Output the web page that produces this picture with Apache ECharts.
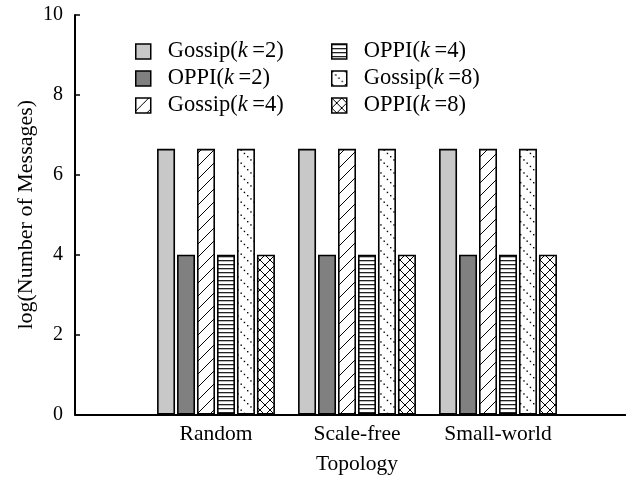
<!DOCTYPE html>
<html>
<head>
<meta charset="utf-8">
<script src="https://cdn.jsdelivr.net/npm/echarts@6/dist/echarts.min.js"></script>
<style>
html,body{margin:0;padding:0;background:#fff;}
#chart{width:626px;height:478px;}
</style>
</head>
<body>
<div id="chart"></div>
<script>
// ---- data ----
const categories = ['Random', 'Scale-free', 'Small-world'];
const seriesNames = ['Gossip(k=2)', 'OPPI(k=2)', 'Gossip(k=4)', 'OPPI(k=4)', 'Gossip(k=8)', 'OPPI(k=8)'];
const gossipK2 = [6.65, 6.65, 6.65];
const oppiK2 = [4.0, 4.0, 4.0];
const gossipK4 = [6.65, 6.65, 6.65];
const oppiK4 = [4.0, 4.0, 4.0];
const gossipK8 = [6.65, 6.65, 6.65];
const oppiK8 = [4.0, 4.0, 4.0];
const yTicks = [0, 2, 4, 6, 8, 10];
const xTitle = 'Topology';
const yTitle = 'log(Number of Messages)';

// ---- patterns ----
function tile(w, h, draw) {
  const c = document.createElement('canvas');
  c.width = w; c.height = h;
  const g = c.getContext('2d');
  g.fillStyle = '#fff';
  g.fillRect(0, 0, w, h);
  g.strokeStyle = '#000';
  g.fillStyle = '#000';
  draw(g, w, h);
  return { image: c, repeat: 'repeat' };
}
const patDiag = tile(13, 13, (g, w, h) => {
  g.lineWidth = 1;
  g.beginPath();
  g.moveTo(-1, h + 1); g.lineTo(w + 1, -1);
  g.moveTo(-2, 1); g.lineTo(1, -2);
  g.moveTo(w - 1, h + 2); g.lineTo(w + 2, h - 1);
  g.stroke();
});
const patHoriz = tile(4, 4, (g, w, h) => {
  g.fillStyle = '#222';
  g.fillRect(0, 0, w, 1.3);
});
const patDots = tile(13, 13, (g, w, h) => {
  for (let i = 0; i < 4; i++) {
    const p = i * 3.25;
    g.fillRect(p, p, 1.4, 1.4);
  }
});
const patCross = tile(10, 10, (g, w, h) => {
  g.lineWidth = 1;
  g.beginPath();
  g.moveTo(0, 0); g.lineTo(w, h);
  g.moveTo(w, 0); g.lineTo(0, h);
  g.stroke();
});
const fills = ['#c8c8c8', '#808080', patDiag, patHoriz, patDots, patCross];
const values = [gossipK2, oppiK2, gossipK4, oppiK4, gossipK8, oppiK8];

const serif = '"Liberation Serif", "DejaVu Serif", serif';
const legendSize = 22.5;

function legendFormatter(name) {
  const m = name.match(/^(.*)\(k=(\d)\)$/);
  return '{n|' + m[1] + '(}{i|k}{n|\u2009=' + m[2] + ')}';
}
const legendText = {
  color: '#000',
  fontFamily: serif,
  fontSize: legendSize,
  padding: [0, 0, 0, 12],
  rich: {
    n: { fontFamily: serif, fontSize: legendSize, color: '#000' },
    i: { fontFamily: serif, fontSize: legendSize, color: '#000', fontStyle: 'italic' }
  }
};
function makeLegend(names, left) {
  return {
    data: names,
    orient: 'vertical',
    left: left,
    top: 40,
    padding: 0,
    itemWidth: 15,
    itemHeight: 15,
    itemGap: 4,
    icon: 'rect',
    selectedMode: false,
    formatter: legendFormatter,
    textStyle: legendText,
    itemStyle: { borderColor: '#000', borderWidth: 1.5 }
  };
}

const chart = echarts.init(document.getElementById('chart'), null, { renderer: 'canvas' });
const option = {
  backgroundColor: '#fff',
  animation: false,
  legend: [makeLegend(seriesNames.slice(0, 3), 135), makeLegend(seriesNames.slice(3), 331)],
  grid: { left: 75, top: 15, width: 564, bottom: 63.5, containLabel: false, outerBoundsMode: 'none' },
  xAxis: {
    type: 'category',
    data: ['', ...categories, ''],
    boundaryGap: false,
    name: xTitle,
    nameLocation: 'middle',
    nameGap: 39,
    nameMoveOverlap: false,
    nameTextStyle: { fontFamily: serif, fontSize: 21.5, color: '#000' },
    axisLine: { lineStyle: { color: '#000', width: 2 } },
    axisTick: { show: false },
    axisLabel: { fontFamily: serif, fontSize: 21.5, color: '#000', margin: 9, interval: 0 },
    splitLine: { show: false }
  },
  yAxis: {
    type: 'value',
    min: yTicks[0],
    max: yTicks[yTicks.length - 1],
    interval: yTicks[1] - yTicks[0],
    name: yTitle,
    nameLocation: 'middle',
    nameGap: 38,
    nameMoveOverlap: false,
    nameTextStyle: { fontFamily: serif, fontSize: 22, color: '#000' },
    axisLine: { show: true, lineStyle: { color: '#000', width: 2 } },
    axisTick: { show: true, inside: true, length: 5, lineStyle: { color: '#000', width: 1.5 } },
    axisLabel: { fontFamily: serif, fontSize: 20, color: '#000', margin: 12 },
    splitLine: { show: false }
  },
  series: seriesNames.map((name, i) => ({
    name: name,
    type: 'bar',
    data: [null, ...values[i], null],
    barWidth: 18,
    barGap: '11%',
    itemStyle: { color: fills[i], borderColor: '#000', borderWidth: 1.6 }
  }))
};
chart.setOption(option);
</script>
</body>
</html>
